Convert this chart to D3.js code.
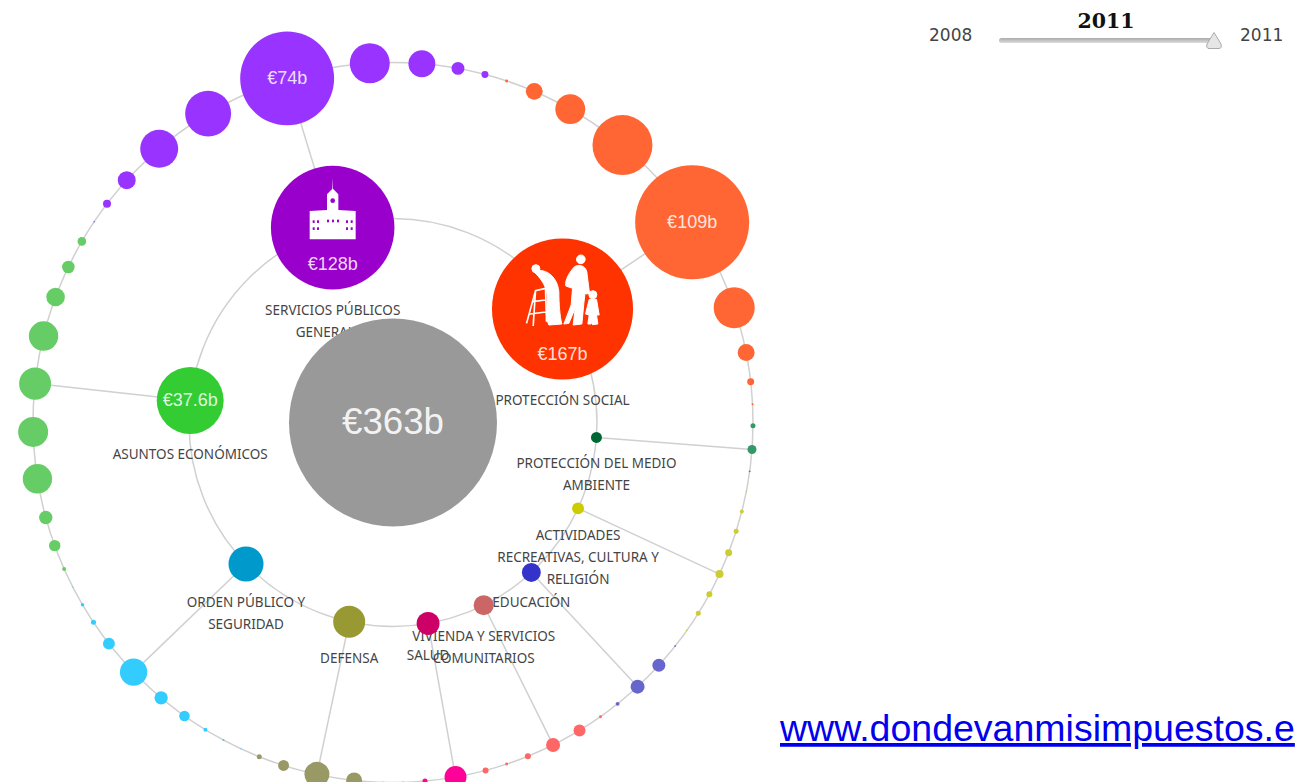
<!DOCTYPE html>
<html><head><meta charset="utf-8">
<script src="https://cdn.jsdelivr.net/npm/d3@7"></script>
<style>html,body{margin:0;padding:0;background:#fff;overflow:hidden}svg{display:block}</style>
</head><body><svg id="c" width="1295" height="782"></svg>
<script>
// ---- data (values in € billions, angles in degrees clockwise from the top) ----
const totalValue = 363;
const categories = ["Servicios públicos generales","Protección social","Protección del medio ambiente","Actividades recreativas, cultura y religión","Educación","Vivienda y servicios comunitarios","Salud","Defensa","Orden público y seguridad","Asuntos económicos"];
const categoryLabels = [["SERVICIOS PÚBLICOS","GENERALES"],["PROTECCIÓN SOCIAL"],["PROTECCIÓN DEL MEDIO","AMBIENTE"],["ACTIVIDADES","RECREATIVAS, CULTURA Y","RELIGIÓN"],["EDUCACIÓN"],["VIVIENDA Y SERVICIOS","COMUNITARIOS"],["SALUD"],["DEFENSA"],["ORDEN PÚBLICO Y","SEGURIDAD"],["ASUNTOS ECONÓMICOS"]];
const categoryValues = [128,167,1.0,1.2,3.0,3.4,4.4,8.6,10.3,37.6];
const categoryAngles = [342.8,56.2,94.2,114.9,137.3,153.6,170.1,192.4,226.1,276.2];
const serviciosAngles = [303.9,307.4,312.3,319.5,329.1,342.9,356.3,4.6,10.4,14.8];
const serviciosValues = [0.016,0.54,2.7,12.1,17.7,74,13.4,6.1,1.4,0.41];
const proteccionAngles = [18.4,23.1,29.5,39.6,56.2,71.4,78.8,83.5,87.1];
const proteccionValues = [0.075,2.4,7.5,30.2,109,14.1,2.4,0.41,0.03];
const ambienteAngles = [90.5,94.3,97.8];
const ambienteValues = [0.21,0.68,0.03];
const culturaAngles = [101,104.3,107.6,111.2,114.9,118.5,122,125.3];
const culturaValues = [0.016,0.13,0.21,0.41,0.54,0.3,0.21,0.02];
const educacionAngles = [128.4,132.4,137.2,141.4];
const educacionValues = [0.03,1.42,1.64,0.13];
const viviendaAngles = [144.8,148.8,153.6,158,161.6,165.1];
const viviendaValues = [0.075,1.2,1.64,0.3,0.075,0.3];
const saludAngles = [170,174.9,178.4];
const saludValues = [4.06,0.21,0.02];
const defensaAngles = [181.6,186.2,192.2,197.7,201.8];
const defensaValues = [0.02,2.15,5.24,1.0,0.21];
const ordenAngles = [205,208.1,211.4,215.4,220.1,226.1,232.1,236.3,239.6,242.8];
const ordenValues = [0.012,0.03,0.13,0.94,1.5,6.3,1.2,0.21,0.1,0.01];
const asuntosAngles = [246,250,254.7,261,268.5,276.2,283.9,290.4,295.6,300.2];
const asuntosValues = [0.13,1.09,1.5,7.25,7.55,8.6,7.25,2.9,1.33,0.62];
const yearLabels = ["2008","2011"];
const currentYear = "2011";
const sourceLink = "www.dondevanmisimpuestos.e";

const subAngles = [serviciosAngles,proteccionAngles,ambienteAngles,culturaAngles,educacionAngles,viviendaAngles,saludAngles,defensaAngles,ordenAngles,asuntosAngles];
const subValues = [serviciosValues,proteccionValues,ambienteValues,culturaValues,educacionValues,viviendaValues,saludValues,defensaValues,ordenValues,asuntosValues];

// ---- styles ----
const innerColors = ["#9900cc","#ff3300","#006633","#cccc00","#3333cc","#cc6666","#cc0066","#999933","#0099cc","#33cc33"];
const outerColors = ["#9933ff","#ff6633","#339966","#cccc33","#6666cc","#ff6666","#ff0099","#999966","#33ccff","#66cc66"];
const svg = d3.select("#c");
const cx = 393, cy = 422.5, innerR = 204, outerR = 360;
const rScale = d3.scaleSqrt().domain([0,totalValue]).range([0,104]);
const aScale = d3.scaleLinear().domain([0,360]).range([0,2*Math.PI]);
const polar = (deg,R)=>d3.pointRadial(aScale(deg),R);
const fmt = v=>"€"+v+"b";
const ringC = "#d0d0d0";
const g = svg.append("g").attr("transform",`translate(${cx},${cy})`);

// rings
g.selectAll("circle.ring").data([innerR,outerR]).join("circle").attr("class","ring")
  .attr("r",d=>d).attr("fill","none").attr("stroke",ringC).attr("stroke-width",1.5);

// spokes from each category to its largest item
categories.forEach((c,i)=>{
  const vals=subValues[i]; const k=vals.indexOf(d3.max(vals));
  const p0=polar(categoryAngles[i],innerR), p1=polar(subAngles[i][k],outerR);
  g.append("line").attr("x1",p0[0]).attr("y1",p0[1]).attr("x2",p1[0]).attr("y2",p1[1])
    .attr("stroke",ringC).attr("stroke-width",1.5);
});

// outer nodes
categories.forEach((c,i)=>{
  const items=subValues[i].map((v,j)=>({v,a:subAngles[i][j]}));
  const s=g.append("g").selectAll("g").data(items).join("g")
    .attr("transform",d=>`translate(${polar(d.a,outerR)})`);
  s.append("circle").attr("r",d=>rScale(d.v)).attr("fill",outerColors[i]);
  s.filter(d=>d.v>=50).append("text").text(d=>fmt(d.v))
    .attr("text-anchor","middle").attr("dy",6).attr("fill","#fff").attr("fill-opacity",.85)
    .style("font","18px 'Liberation Sans',Arial,sans-serif");
});

// category labels
categories.forEach((c,i)=>{
  const p=polar(categoryAngles[i],innerR), r=rScale(categoryValues[i]);
  const t=g.append("text").attr("text-anchor","middle").attr("fill","#444")
    .style("font","13.5px 'Noto Sans',sans-serif");
  categoryLabels[i].forEach((ln,k)=>t.append("tspan").attr("x",p[0]).attr("y",p[1]+r+25.5+k*22).text(ln));
});

// inner nodes
const inner=g.append("g").selectAll("g").data(categories.map((c,i)=>({v:categoryValues[i],a:categoryAngles[i],i})))
  .join("g").attr("transform",d=>`translate(${polar(d.a,innerR)})`);
inner.append("circle").attr("r",d=>rScale(d.v)).attr("fill",d=>innerColors[d.i]);
inner.filter(d=>d.v>=20).append("text").text(d=>fmt(d.v)).attr("text-anchor","middle")
  .attr("dy",d=>d.i===9?6:(d.i===0?42:51)).attr("fill","#fff").attr("fill-opacity",.85)
  .style("font","18px 'Liberation Sans',Arial,sans-serif");

// icons
const bld=inner.filter(d=>d.i===0).append("g").attr("transform","scale(0.3333) translate(-279,-205)");
bld.append("path").attr("fill","#fff").attr("d","M210 240V155L262 152V105L278 88L278 55L280 88L296 105V152L348 155V240Z");
const winds=[[222,187],[235,187],[265,185],[280,185],[295,185],[322,187],[336,187],[222,208],[235,208],[322,208],[336,208]];
bld.selectAll("rect").data(winds).join("rect").attr("x",d=>d[0]-3).attr("y",d=>d[1]-4).attr("width",6).attr("height",8).attr("fill",innerColors[0]);
bld.append("circle").attr("cx",279).attr("cy",124).attr("r",7).attr("fill",innerColors[0]);

const ppl=inner.filter(d=>d.i===1).append("g").attr("transform","scale(0.3333) translate(-966,-447)").attr("fill","#fff").attr("stroke","#fff").attr("stroke-width",3);
ppl.append("circle").attr("cx",886).attr("cy",326).attr("r",12);
ppl.append("path").attr("d","M880 335C910 322 950 345 955 395C955 430 958 470 964 492L925 495C912 470 925 430 918 395C912 370 900 355 880 335Z");
ppl.append("path").attr("fill","none").attr("stroke-width",5).attr("d","M915 385L885 392L858 490M885 392L878 498M915 385L918 485M875 425L915 420M868 462L916 456");
ppl.append("circle").attr("cx",1021).attr("cy",298).attr("r",13);
ppl.append("path").attr("d","M1002 320C1020 310 1040 320 1040 345L1047 400L1036 402L1034 395L1030 430L1024 492L998 495L1004 445L985 490L970 492L992 435L996 385L976 378C972 360 988 335 1002 320Z");
ppl.append("circle").attr("cx",1057).attr("cy",404).attr("r",12);
ppl.append("path").attr("d","M1046 418L1068 418L1076 465L1068 465L1072 492L1056 494L1056 470L1052 492L1042 492L1046 465L1035 462Z");

// centre total
const ctr=g.append("g");
ctr.append("circle").attr("r",rScale(totalValue)).attr("fill","#999");
ctr.append("text").text(fmt(totalValue)).attr("text-anchor","middle").attr("dy",11).attr("fill","#fff").attr("fill-opacity",.9)
  .style("font","36.7px 'Liberation Sans',Arial,sans-serif");

// year slider
const sx=d3.scaleLinear().domain([2008,2011]).range([1001,1214]);
const defs=svg.append("defs");
const lg=defs.append("linearGradient").attr("id","tr").attr("x1",0).attr("x2",0).attr("y1",0).attr("y2",1);
lg.append("stop").attr("offset",0).attr("stop-color","#aaa");lg.append("stop").attr("offset",1).attr("stop-color","#ddd");
svg.append("rect").attr("x",sx(2008)-2).attr("y",38).attr("width",sx(2011)-sx(2008)).attr("height",5).attr("rx",2.5).attr("fill","url(#tr)");
svg.append("path").attr("transform",`translate(${sx(+currentYear)},0)`).attr("d","M0 32.5L7 44Q8 48.5 5 48.5H-5Q-8 48.5 -7 44Z").attr("fill","#e6e6e6").attr("stroke","#aaa").attr("stroke-width",1);
svg.append("text").text(currentYear).attr("x",1106).attr("y",28).attr("text-anchor","middle").attr("fill","#111")
  .style("font","bold 20.5px 'DejaVu Serif',serif");
svg.append("text").text(yearLabels[0]).attr("x",929).attr("y",41).attr("fill","#444").style("font","17px 'DejaVu Sans',Verdana,sans-serif");
svg.append("text").text(yearLabels[1]).attr("x",1240).attr("y",41).attr("fill","#444").style("font","17px 'DejaVu Sans',Verdana,sans-serif");

// source link
svg.append("text").text(sourceLink).attr("x",780).attr("y",741).attr("fill","#0000ee").attr("text-decoration","underline")
  .style("font","37.5px 'Liberation Sans',Arial,sans-serif");
</script></body></html>
